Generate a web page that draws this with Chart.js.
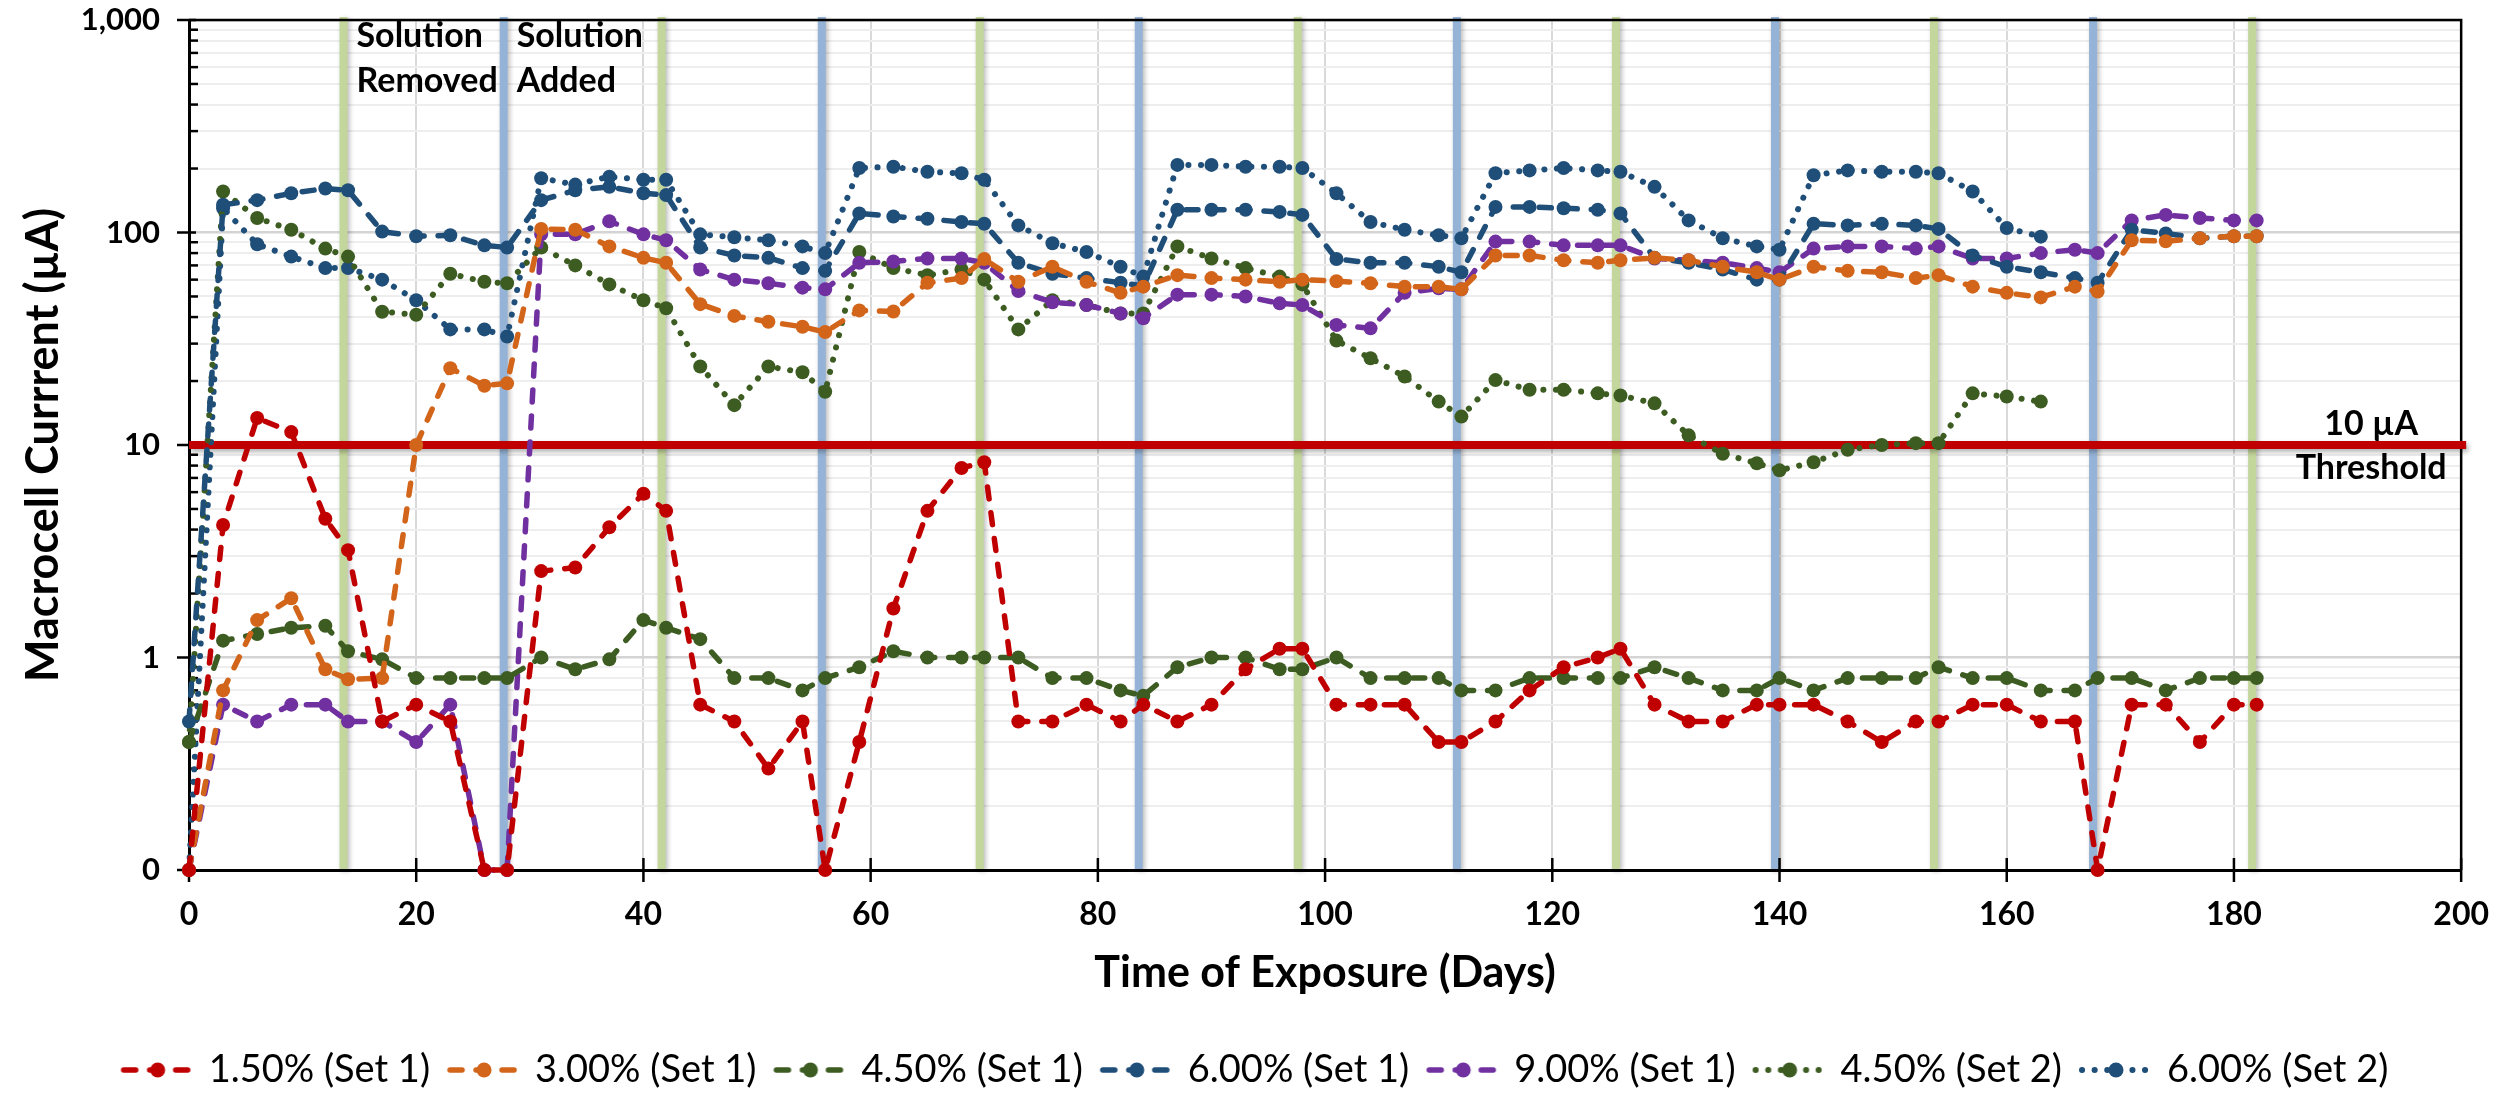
<!DOCTYPE html>
<html>
<head>
<meta charset="utf-8">
<script src="https://cdn.jsdelivr.net/npm/chart.js@4.4.1/dist/chart.umd.min.js"></script>
<style>
html,body{margin:0;padding:0;background:#fff;}
#wrap{width:2514px;height:1094px;position:relative;}
</style>
</head>
<body>
<div id="wrap"><canvas id="c" width="2514" height="1094"></canvas></div>
<script>
// ---------------- DATA ----------------
const days = [0,3,6,9,12,14,17,20,23,26,28,31,34,37,40,42,45,48,51,54,56,59,62,65,68,70,73,76,79,82,84,87,90,93,96,98,101,104,107,110,112,115,118,121,124,126,129,132,135,138,140,143,146,149,152,154,157,160,163,166,168,171,174,177,180,182];
const daysSet2 = [0,3,6,9,12,14,17,20,23,26,28,31,34,37,40,42,45,48,51,54,56,59,62,65,68,70,73,76,79,82,84,87,90,93,96,98,101,104,107,110,112,115,118,121,124,126,129,132,135,138,140,143,146,149,152,154,157,160,163];

const c150set1 = [0.1,4.2,13.4,11.5,4.5,3.2,0.5,0.6,0.5,0.1,0.1,2.55,2.65,4.1,5.9,4.9,0.6,0.5,0.3,0.5,0.1,0.4,1.7,4.9,7.8,8.3,0.5,0.5,0.6,0.5,0.6,0.5,0.6,0.88,1.1,1.1,0.6,0.6,0.6,0.4,0.4,0.5,0.7,0.9,1.0,1.1,0.6,0.5,0.5,0.6,0.6,0.6,0.5,0.4,0.5,0.5,0.6,0.6,0.5,0.5,0.1,0.6,0.6,0.4,0.6,0.6];
const c300set1 = [0.1,0.7,1.5,1.9,0.88,0.79,0.8,10,23,19,19.5,104,103,86,76,72,46,40.5,38,36,34,43,42.5,58,61,75,58.6,69,58.6,52,55.6,63,61,60,58.6,60,59,57.7,55.6,55.6,54,78,78,74,72,74,76,74,69,65,60,69,66,65,61,63,55.6,52,49.5,55.6,52.7,92,91,94,96,96];
const c450set1 = [0.4,1.2,1.29,1.38,1.41,1.07,0.98,0.8,0.8,0.8,0.8,1.0,0.88,0.98,1.5,1.38,1.22,0.8,0.8,0.7,0.8,0.9,1.07,1.0,1.0,1.0,1.0,0.8,0.8,0.7,0.66,0.9,1.0,1.0,0.88,0.88,1.0,0.8,0.8,0.8,0.7,0.7,0.8,0.8,0.8,0.8,0.9,0.8,0.7,0.7,0.8,0.7,0.8,0.8,0.8,0.9,0.8,0.8,0.7,0.7,0.8,0.8,0.7,0.8,0.8,0.8];
const c600set1 = [0.5,135,142,153,161,158,101,96,97,87,85,142,158,164,153,150,85,78,76,68,66,123,119,116,112,110,72,64,61,58,56,128,128,128,125,121,75,72,72,69,65,132,132,130,128,123,76,72,67,60,60,110,108,110,108,104,78,69,65,61,58,103,99,94,96,96];
const c900set1 = [0.1,0.6,0.5,0.6,0.6,0.5,0.5,0.4,0.6,0.1,0.1,98,98,113,98,92,67,60,57.7,55,54,72,73,75.5,75.5,72,53,47,45.6,41.6,39.5,51,51,50,46.4,45.6,36.7,35.4,52,54.6,54,90.6,90.6,87,87,87,75.5,74,72,68,65,84,86,86,84,86,75.5,75.5,80,83,80,114,121,117,114,114];
const c450set2 = [0.4,156,117,103,84,77,42.4,41,64,58.6,57.7,85,70,57,48,44,23.4,15.4,23.4,22,17.8,81,68,63,67,60,35,48,45.6,41.6,41.6,86,75.5,68,62,57,31,25.6,21,16,13.6,20.2,18.2,18.2,17.5,17.1,15.7,11.1,9.1,8.2,7.6,8.3,9.5,10,10.2,10.2,17.5,16.9,16];
const c600set2 = [0.1,130,88,77,68,68,60,48,35,35,32.4,180,168,183,177,177,98,95,92,86,80,201,204,193,190,177,108,89,81,69,62,208,208,204,204,201,153,112,103,97,94,190,196,201,196,193,164,114,94,86,83,186,196,193,193,190,156,105,95.6];

const seriesLabels = ['1.50% (Set 1)','3.00% (Set 1)','4.50% (Set 1)','6.00% (Set 1)','9.00% (Set 1)','4.50% (Set 2)','6.00% (Set 2)'];

const solutionRemovedDays = [13.6,41.6,69.6,97.6,125.6,153.6,181.6];
const solutionAddedDays = [27.7,55.7,83.6,111.6,139.6,167.6];
const thresholdValue = 10;

const xTickValues = [0,20,40,60,80,100,120,140,160,180,200];
const yDecades = [0.1,1,10,100,1000];
const yDecadeLabels = ['0','1','10','100','1,000'];

const yTitle = 'Macrocell Currrent (µA)';
const xTitle = 'Time of Exposure (Days)';
const removedText = ['Solution','Removed'];
const addedText = ['Solution','Added'];
const thresholdText = ['10 µA','Threshold'];

// ---------------- STYLE ----------------
const FONT = 'Lato';
const PLOT_BOTTOM = 870;
const DASH = [12,14];
const DOT = [0.1,12.5];
const seriesStyles = [
  {color:'#C00000', dash:DASH, w:5.5},
  {color:'#D2651A', dash:DASH, w:5.5},
  {color:'#3D5C22', dash:DASH, w:5.5},
  {color:'#1F4E79', dash:DASH, w:5.5},
  {color:'#7030A0', dash:DASH, w:5.5},
  {color:'#3D5C22', dash:DOT, w:6},
  {color:'#1F4E79', dash:DOT, w:6}
];
const seriesX = [days,days,days,days,days,daysSet2,daysSet2];
const seriesY = [c150set1,c300set1,c450set1,c600set1,c900set1,c450set2,c600set2];

// log gridline positions (axis structure)
const yTickValues = [];
yDecades.forEach((d,i)=>{
  if (i === yDecades.length-1) { yTickValues.push({v:d, major:true}); return; }
  for (let m=1;m<=9;m++) yTickValues.push({v:d*m, major:m===1});
});
const majorSet = new Set(yDecades);

function legendIcon(st){
  const c = document.createElement('canvas');
  c.width = 76; c.height = 18;
  const g = c.getContext('2d');
  g.strokeStyle = st.color; g.lineWidth = st.w; g.lineCap = 'round';
  g.setLineDash(st.dash);
  g.beginPath(); g.moveTo(4,9); g.lineTo(72,9); g.stroke();
  g.setLineDash([]);
  g.fillStyle = st.color;
  g.beginPath(); g.arc(38,9,7.5,0,Math.PI*2); g.fill();
  return c;
}

const datasets = seriesLabels.map((lab,i)=>{
  const st = seriesStyles[i];
  return {
    label: lab,
    data: seriesY[i].map((v,k)=>({x:seriesX[i][k], y:v})),
    borderColor: st.color,
    backgroundColor: st.color,
    borderWidth: st.w,
    borderDash: st.dash,
    borderCapStyle: 'round',
    borderJoinStyle: 'round',
    pointRadius: 7,
    pointHoverRadius: 7,
    pointBackgroundColor: st.color,
    pointBorderWidth: 0,
    tension: 0,
    clip: 12
  };
});
const icons = seriesStyles.map(legendIcon);

const overlay = {
  id:'overlay',
  beforeDatasetsDraw(chart){
    const {ctx, chartArea:a, scales:{x,y}} = chart;
    ctx.save();
    ctx.shadowColor = 'rgba(0,0,0,0.28)';
    ctx.shadowBlur = 5; ctx.shadowOffsetX = 2; ctx.shadowOffsetY = 2;
    ctx.lineWidth = 8;
    ctx.strokeStyle = '#C3D69B';
    solutionRemovedDays.forEach(d=>{
      const px = x.getPixelForValue(d);
      ctx.beginPath(); ctx.moveTo(px, a.top-3); ctx.lineTo(px, a.bottom-1); ctx.stroke();
    });
    ctx.strokeStyle = '#95B3D7';
    solutionAddedDays.forEach(d=>{
      const px = x.getPixelForValue(d);
      ctx.beginPath(); ctx.moveTo(px, a.top-3); ctx.lineTo(px, a.bottom-1); ctx.stroke();
    });
    ctx.restore();

    ctx.save();
    ctx.strokeStyle = '#000'; ctx.lineWidth = 2.5;
    ctx.beginPath();
    ctx.moveTo(a.left, a.top); ctx.lineTo(a.right, a.top); ctx.lineTo(a.right, a.bottom);
    ctx.stroke();
    yTickValues.forEach(t=>{
      const py = y.getPixelForValue(t.v);
      ctx.beginPath();
      if (t.major) { ctx.moveTo(a.left-12, py); ctx.lineTo(a.left+7, py); }
      else { ctx.moveTo(a.left, py); ctx.lineTo(a.left+9, py); }
      ctx.stroke();
    });
    xTickValues.forEach(v=>{
      const px = x.getPixelForValue(v);
      ctx.beginPath(); ctx.moveTo(px, a.bottom-12); ctx.lineTo(px, a.bottom+12); ctx.stroke();
    });
    ctx.restore();

    ctx.save();
    ctx.shadowColor = 'rgba(0,0,0,0.3)';
    ctx.shadowBlur = 5; ctx.shadowOffsetX = 2; ctx.shadowOffsetY = 3;
    ctx.strokeStyle = '#C00000'; ctx.lineWidth = 8;
    const ty = y.getPixelForValue(thresholdValue);
    ctx.beginPath(); ctx.moveTo(a.left, ty); ctx.lineTo(a.right+5, ty); ctx.stroke();
    ctx.restore();
  },
  afterDraw(chart){
    const {ctx, chartArea:a, scales:{x,y}} = chart;
    ctx.save();
    ctx.fillStyle = '#000';
    ctx.font = 'bold 34px ' + FONT;
    ctx.textBaseline = 'middle';
    ctx.textAlign = 'left';
    const rx = x.getPixelForValue(solutionRemovedDays[0]) + 13;
    ctx.fillText(removedText[0], rx, a.top + 16);
    ctx.fillText(removedText[1], rx, a.top + 61);
    const ax = x.getPixelForValue(solutionAddedDays[0]) + 13;
    ctx.fillText(addedText[0], ax, a.top + 16);
    ctx.fillText(addedText[1], ax, a.top + 61);
    ctx.textAlign = 'center';
    const ty = y.getPixelForValue(thresholdValue);
    const tx = a.right - 90;
    ctx.fillText(thresholdText[0], tx, ty - 21);
    ctx.fillText(thresholdText[1], tx, ty + 23);
    ctx.restore();
  }
};

function build(){
  new Chart(document.getElementById('c'), {
    type:'line',
    data:{datasets},
    plugins:[overlay],
    options:{
      responsive:false,
      animation:false,
      maintainAspectRatio:false,
      layout:{padding:{top:20,left:0,right:0,bottom:-5}},
      plugins:{
        tooltip:{enabled:false},
        legend:{
          position:'bottom',
          labels:{
            usePointStyle:true,
            pointStyleWidth:64,
            padding:22,
            color:'#000',
            font:{family:FONT,size:38},
            generateLabels:(ch)=>ch.data.datasets.map((ds,i)=>({
              text:ds.label, pointStyle:icons[i], fillStyle:ds.borderColor,
              strokeStyle:ds.borderColor, lineWidth:0, hidden:false, datasetIndex:i, fontColor:'#000'
            }))
          }
        }
      },
      scales:{
        x:{
          type:'linear', min:0, max:200,
          afterBuildTicks:(s)=>{ s.ticks = xTickValues.map(v=>({value:v})); },
          afterFit:(s)=>{
            const lh = s.chart.legend ? s.chart.legend.height : 70;
            s.height = s.chart.height + 5 - PLOT_BOTTOM - lh;
          },
          ticks:{autoSkip:false, maxRotation:0, padding:25, color:'#000', font:{family:FONT,size:32,weight:'bold'}},
          grid:{drawTicks:false, color:'#d9d9d9', lineWidth:2},
          border:{display:true, color:'#000', width:3},
          title:{display:true, text:xTitle, color:'#000', font:{family:FONT,size:43,weight:'bold'}, padding:{top:0,bottom:30}}
        },
        y:{
          type:'logarithmic', min:0.1, max:1000,
          afterBuildTicks:(s)=>{ s.ticks = yTickValues.map(t=>({value:t.v, major:t.major})); },
          afterFit:(s)=>{ s.width = 189; s.paddingTop = 0; s.paddingBottom = 0; },
          ticks:{autoSkip:false, padding:29, color:'#000', font:{family:FONT,size:31,weight:'bold'},
            callback:(v)=>{ const i = yDecades.indexOf(v); return i>=0 ? yDecadeLabels[i] : ''; }},
          grid:{drawTicks:false,
            color:(c)=> (c.tick && majorSet.has(c.tick.value)) ? '#d4d4d4' : '#eeeeee',
            lineWidth:(c)=> (c.tick && majorSet.has(c.tick.value)) ? 2.5 : 2},
          border:{display:true, color:'#000', width:3},
          title:{display:true, text:yTitle, color:'#000', font:{family:FONT,size:45,weight:'bold'}, padding:{top:16,bottom:0}}
        },
        yR:{
          position:'right', type:'linear', display:true,
          afterFit:(s)=>{ s.width = 39; s.paddingTop = 0; s.paddingBottom = 0; },
          ticks:{display:false}, grid:{display:false, drawOnChartArea:false}, border:{display:false}
        }
      }
    }
  });
}
Promise.all([
  document.fonts.load('bold 30px Lato'),
  document.fonts.load('36px Lato')
]).then(build, build);
</script>
</body>
</html>
